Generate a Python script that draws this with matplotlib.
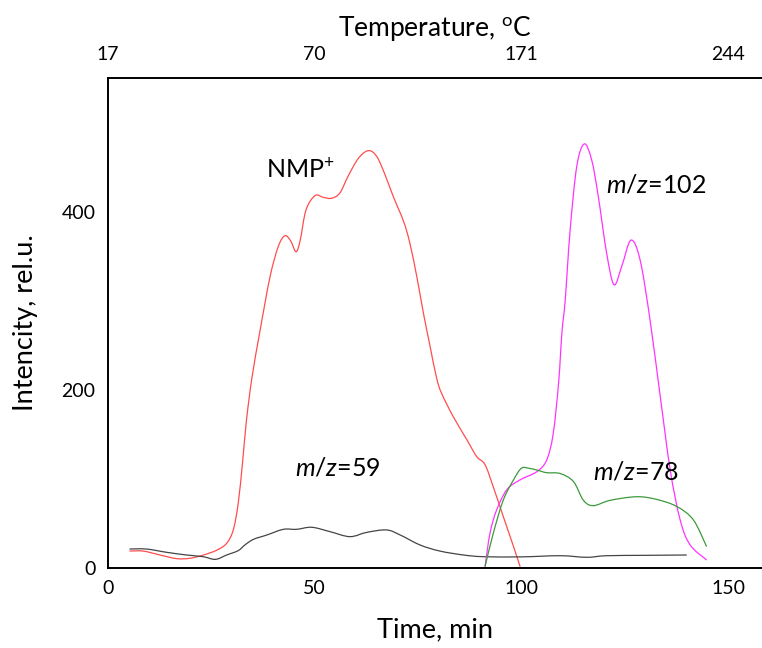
import matplotlib
matplotlib.use("Agg")
import matplotlib.pyplot as plt
from matplotlib.path import Path
from matplotlib.patches import PathPatch

plt.rcParams['font.family'] = ['Lato', 'DejaVu Sans']
plt.rcParams['mathtext.fontset'] = 'custom'
plt.rcParams['mathtext.rm'] = 'Lato'
plt.rcParams['mathtext.it'] = 'Lato:italic'

# NMP+ (red)
nmp_t = [5.2, 8.5, 12.6, 16.6, 19.8, 23.1, 26.3, 28.7, 30.3, 31.5, 32.6, 33.5, 34.8, 36.8, 39.2,
         41.2, 42.8, 44.2, 45.5, 46.5, 47.9, 50.1, 52.1, 54.1, 56.1, 58.1, 60.6, 63.0, 65.0,
         67.0, 69.0, 71.5, 73.0, 74.7, 76.3, 77.9, 79.5, 80.7, 83.5, 86.8, 89.2, 91.2, 93.2,
         95.6, 98.1, 99.7]
nmp_i = [19, 19, 14.6, 10.5, 10.9, 14.6, 20, 27.7, 42.7, 72.7, 121, 166, 213, 267, 327,
         361, 373, 367, 355, 368, 402, 418, 416, 415, 421, 440, 460, 468.5, 462,
         441.6, 417, 389, 365, 327, 286, 249, 213, 196, 170, 144, 125, 116, 91,
         58, 24, 1.5]

# m/z=59 (black)
m59_t = [5.2, 9.3, 14.2, 19.0, 23.0, 26.0, 28.7, 31.5, 33.1, 35.2, 38.4, 42.4, 45.6, 49.3,
         53.7, 58.5, 62.6, 67.4, 70.7, 75.5, 80.3, 86.0, 90.8, 100.0, 109.4, 115.8, 120.6,
         130.0, 140.0]
m59_i = [21.3, 21.3, 17.6, 14.6, 12.7, 9.7, 14.6, 19.5, 25.8, 32.2, 37, 43.4, 43.4, 45.7,
         40.8, 35.2, 40, 42.7, 37, 25.8, 19, 14.6, 12.7, 12.5, 13.8, 12, 13.8,
         14.2, 14.6]

# m/z=102 (magenta)
m102_t = [91.2, 92.4, 94.0, 96.5, 99.7, 103.7, 106.1, 107.7, 109.0, 109.8, 110.6, 111.8,
          113.4, 115.2, 117.0, 118.6, 120.6, 122.4, 124.3, 126.5, 128.7, 131.1, 133.6,
          136.0, 138.4, 140.8, 144.8]
m102_i = [1.5, 39, 65, 88, 99, 108, 121, 151, 208, 264, 301, 380,
          451, 476, 458, 417, 354, 318, 339, 368, 346, 279, 192,
          110, 54, 26, 9]

# m/z=78 (green)
m78_t = [91.2, 93.2, 95.6, 98.1, 100.0, 101.7, 103.7, 106.1, 109.4, 112.6, 115.0, 117.4,
         121.5, 127.9, 132.7, 137.6, 141.6, 144.8]
m78_i = [1.5, 39, 76, 99, 112, 112, 110, 107, 106, 97, 76, 70,
         76, 80, 77, 69, 54, 24]

time_ticks = [0, 50, 100, 150]
temp_labels = ['17', '70', '171', '244']
int_ticks = [0, 200, 400]


def smooth_path(xs, ys):
    """Catmull-Rom Bezier path through the given points (Excel-like smoothed line)."""
    pts = list(zip(xs, ys))
    verts = [pts[0]]
    codes = [Path.MOVETO]
    n = len(pts)
    for i in range(n - 1):
        p0 = pts[i - 1] if i > 0 else pts[i]
        p1 = pts[i]
        p2 = pts[i + 1]
        p3 = pts[i + 2] if i + 2 < n else pts[i + 1]
        c1 = (p1[0] + (p2[0] - p0[0]) / 6, p1[1] + (p2[1] - p0[1]) / 6)
        c2 = (p2[0] - (p3[0] - p1[0]) / 6, p2[1] - (p3[1] - p1[1]) / 6)
        verts += [c1, c2, p2]
        codes += [Path.CURVE4] * 3
    return Path(verts, codes)


fig = plt.figure(figsize=(7.62, 6.48), dpi=100)
ax = fig.add_axes([108 / 762, 80 / 648, 654 / 762, 490 / 648])

for xs, ys, col in [(nmp_t, nmp_i, '#FF4D4D'), (m59_t, m59_i, '#454545'),
                    (m102_t, m102_i, '#FF33FF'), (m78_t, m78_i, '#3C9A3C')]:
    ax.add_patch(PathPatch(smooth_path(xs, ys), fill=False, edgecolor=col, lw=0.9))

ax.set_xlim(0, 158.2)
ax.set_ylim(0, 550)
ax.set_xticks(time_ticks)
ax.set_yticks(int_ticks)
ax.tick_params(length=0, labelsize=14, pad=9)
ax.spines['right'].set_visible(False)
for s in ['left', 'bottom', 'top']:
    ax.spines[s].set_linewidth(1.4)

ax.set_xlabel('Time, min', fontsize=19.5, labelpad=14)
ax.set_ylabel('Intencity, rel.u.', fontsize=19.5, labelpad=17)

top = ax.secondary_xaxis('top')
top.set_xticks(time_ticks)
top.set_xticklabels(temp_labels)
top.tick_params(length=0, labelsize=14, pad=11)
top.spines['top'].set_visible(False)
top.set_xlabel(r'Temperature, $^{\mathrm{o}}$C', fontsize=19, labelpad=7)

ax.text(46.5, 448, r'NMP$^{+}$', fontsize=18, ha='center', va='center')
ax.text(55.6, 112, r'$\mathit{m/z}$=59', fontsize=18, ha='center', va='center')
ax.text(132.6, 430, r'$\mathit{m/z}$=102', fontsize=18, ha='center', va='center')
ax.text(127.8, 108, r'$\mathit{m/z}$=78', fontsize=18, ha='center', va='center')

fig.savefig('out.png', dpi=100)
